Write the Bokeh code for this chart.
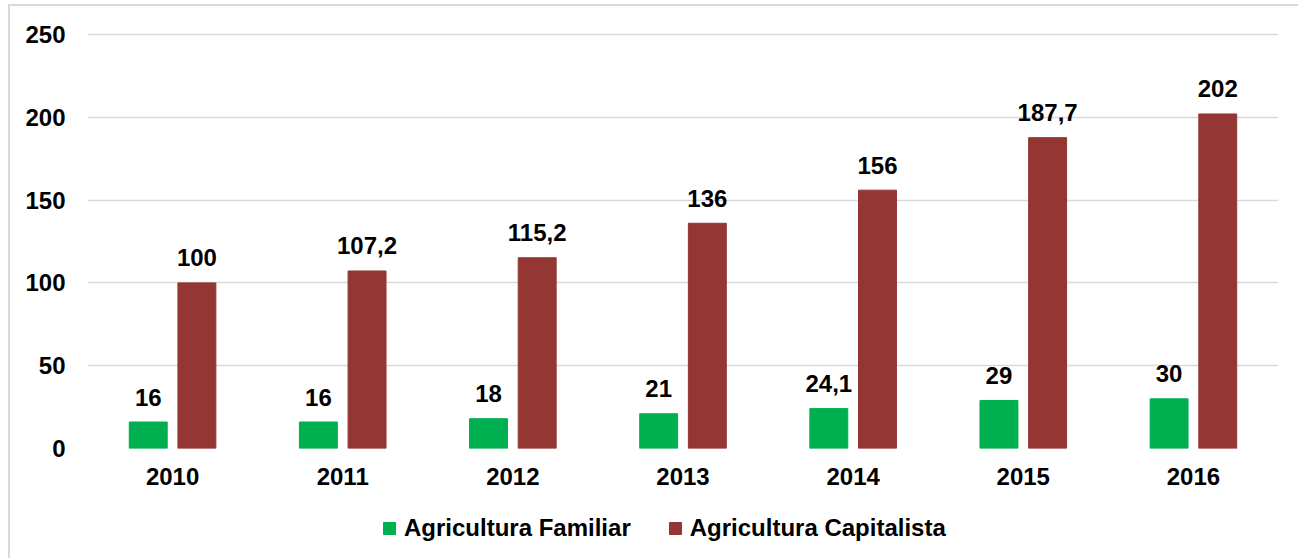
from bokeh.plotting import figure
from bokeh.layouts import column
from bokeh.models import (Legend, LegendItem, FactorRange, ColumnDataSource,
                          Range1d, FixedTicker)
from bokeh.transform import dodge
from bokeh.core.properties import value
from bokeh.embed import file_html
from bokeh.resources import INLINE

# ---- data ----
years = ["2010", "2011", "2012", "2013", "2014", "2015", "2016"]
familiar = [16, 16, 18, 21, 24.1, 29, 30]
capitalista = [100, 107.2, 115.2, 136, 156, 187.7, 202]
y_ticks = [0, 50, 100, 150, 200, 250]
series_names = ["Agricultura Familiar", "Agricultura Capitalista"]
colors = ["#00B050", "#943634"]


def fmt(v):
    return f"{v:g}".replace(".", ",")


src = ColumnDataSource(dict(
    years=years,
    fam=familiar,
    cap=capitalista,
    fam_lbl=[fmt(v) for v in familiar],
    cap_lbl=[fmt(v) for v in capitalista],
))

FONT = value("Liberation Sans")
FS = "24px"

p = figure(
    x_range=FactorRange(*years),
    y_range=Range1d(0, 251.2),
    frame_width=1191, frame_height=416,
    min_border_left=77, min_border_top=26,
    min_border_right=20, min_border_bottom=50,
    output_backend="svg", toolbar_location=None,
)
p.outline_line_color = None
p.background_fill_color = "white"
p.border_fill_color = "white"

off = 0.143
bw = 0.223
x_fam = dodge("years", -off, range=p.x_range)
x_cap = dodge("years", off, range=p.x_range)

p.vbar(x=x_fam, top="fam", width=bw, source=src,
       fill_color=colors[0], line_color=colors[0])
p.vbar(x=x_cap, top="cap", width=bw, source=src,
       fill_color=colors[1], line_color=colors[1])

for xx, col in ((x_fam, "fam"), (x_cap, "cap")):
    p.text(x=xx, y=col, text=col + "_lbl", source=src,
           text_align="center", text_baseline="alphabetic", y_offset=-25,
           text_font=FONT, text_font_style="bold", text_font_size=FS,
           text_color="black")

# axes
p.yaxis.ticker = FixedTicker(ticks=y_ticks)
for ax in (p.xaxis, p.yaxis):
    ax.axis_line_color = None
    ax.major_tick_line_color = None
    ax.minor_tick_line_color = None
    ax.major_label_text_font = "Liberation Sans"
    ax.major_label_text_font_style = "bold"
    ax.major_label_text_font_size = FS
    ax.major_label_text_color = "black"
p.yaxis.major_label_standoff = 16
p.xaxis.major_label_standoff = 13

p.xgrid.visible = False
p.ygrid.grid_line_color = "#d9d9d9"
p.ygrid.grid_line_width = 1.5

# ---- legend strip (separate small figure below the chart) ----
pl = figure(
    x_range=FactorRange(*years), y_range=Range1d(0, 251.2),
    frame_width=77 + 1191 + 20, frame_height=60,
    min_border=0, x_axis_type=None, y_axis_type=None,
    output_backend="svg", toolbar_location=None,
)
pl.outline_line_color = None
pl.xgrid.visible = False
pl.ygrid.visible = False
pl.background_fill_color = "white"
pl.border_fill_color = "white"

l_fam = pl.scatter(x=x_fam, y="fam", source=src, marker="square",
                   fill_color=colors[0], line_color=colors[0], visible=False)
l_cap = pl.scatter(x=x_cap, y="cap", source=src, marker="square",
                   fill_color=colors[1], line_color=colors[1], visible=False)

lg = Legend(items=[LegendItem(label=series_names[0], renderers=[l_fam]),
                   LegendItem(label=series_names[1], renderers=[l_cap])],
            location=(364, 15), orientation="horizontal",
            glyph_width=30, glyph_height=30, label_standoff=-4, spacing=29,
            padding=0, margin=0, border_line_color=None,
            background_fill_alpha=0,
            label_text_font="Liberation Sans", label_text_font_style="bold",
            label_text_font_size=FS, label_text_color="black")
pl.add_layout(lg, "center")

layout = column(p, pl, spacing=0,
                styles={"border-left": "2px solid #d9d9d9",
                        "border-top": "2px solid #d9d9d9",
                        "margin-left": "8px", "margin-top": "4px"})

open("out.html", "w").write(file_html(layout, INLINE))
